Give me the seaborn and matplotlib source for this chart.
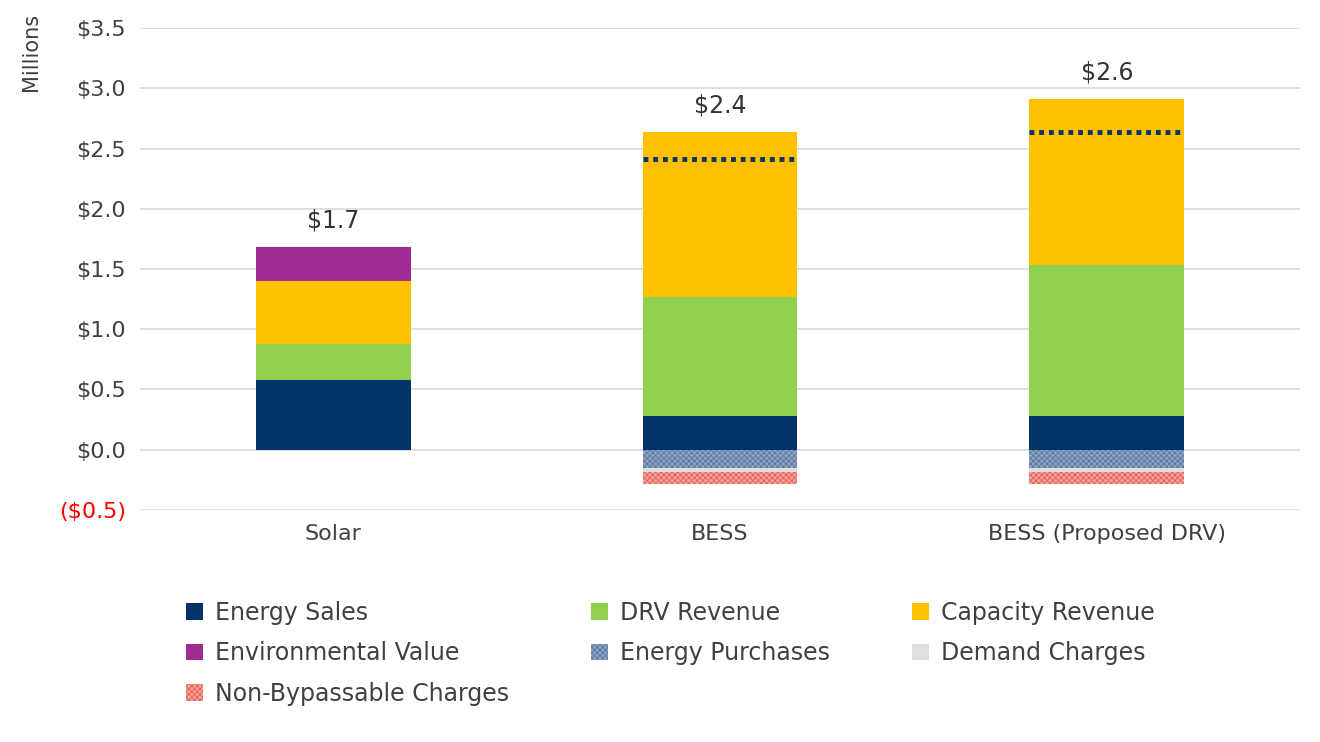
import matplotlib
matplotlib.use("Agg")
import matplotlib.pyplot as plt
import seaborn as sns
import numpy as np

categories = ["Solar", "BESS", "BESS (Proposed DRV)"]
energy_sales = [0.575, 0.28, 0.28]
drv_revenue = [0.305, 0.99, 1.25]
capacity_revenue = [0.52, 1.37, 1.38]
environmental_value = [0.28, 0.0, 0.0]
energy_purchases = [0.0, -0.15, -0.15]
demand_charges = [0.0, -0.04, -0.04]
non_bypassable = [0.0, -0.10, -0.10]
net_values = [None, 2.41, 2.64]
total_labels = ["$1.7", "$2.4", "$2.6"]
label_heights = [1.70, 2.66, 2.93]

sns.set_theme(style="white")
plt.rcParams['font.family'] = ['DejaVu Sans']
plt.rcParams['hatch.linewidth'] = 0.6
fig, ax = plt.subplots(figsize=(13.2, 7.42), dpi=100)
fig.subplots_adjust(left=0.106, right=0.985, top=0.962, bottom=0.313)

x = np.arange(len(categories))
w = 0.4
pos_series = [("Energy Sales", energy_sales, "#003366", None, None),
              ("DRV Revenue", drv_revenue, "#92D050", None, None),
              ("Capacity Revenue", capacity_revenue, "#FFC000", None, None),
              ("Environmental Value", environmental_value, "#A02B93", None, None)]
neg_series = [("Energy Purchases", energy_purchases, "#8EA3C4", "#5A75A0", "xxxxxx"),
              ("Demand Charges", demand_charges, "#E0E0E0", None, None),
              ("Non-Bypassable Charges", non_bypassable, "#F4A49A", "#E85A50", "xxxxxx")]

handles = {}
bottom = np.zeros(3)
for name, vals, col, ec, h in pos_series:
    v = np.array(vals)
    b = ax.bar(x, v, w, bottom=bottom, color=col, label=name, linewidth=0)
    handles[name] = b
    bottom += v
nb = np.zeros(3)
for name, vals, col, ec, h in neg_series:
    v = np.array(vals)
    kw = {}
    if h:
        kw = dict(hatch=h, edgecolor=ec)
    b = ax.bar(x, v, w, bottom=nb, color=col, label=name, linewidth=0, **kw)
    handles[name] = b
    nb += v

for i, nv in enumerate(net_values):
    if nv is not None:
        ax.hlines(nv, x[i] - w / 2, x[i] + w / 2, colors="#003366", linestyles=(0, (1, 1)), linewidth=3.5)
for i, t in enumerate(total_labels):
    ax.text(x[i], label_heights[i] + 0.1, t, ha="center", va="bottom", fontsize=17, color="#333333")

ax.set_ylim(-0.5, 3.5)
ax.set_xlim(-0.5, 2.5)
ticks = np.arange(-0.5, 3.51, 0.5)
ax.set_yticks(ticks)
labs = [("($%.1f)" % abs(t)) if t < 0 else ("$%.1f" % t) for t in ticks]
ax.set_yticklabels(labs, fontsize=16, color="#404040")
ax.get_yticklabels()[0].set_color("red")
ax.set_xticks(x)
ax.set_xticklabels(categories, fontsize=16, color="#404040")
ax.tick_params(axis="both", length=0, pad=10)
ax.yaxis.grid(True, color="#D9D9D9", linewidth=1.2)
ax.set_axisbelow(True)
for s in ax.spines.values():
    s.set_visible(False)
ax.set_ylabel("Millions", fontsize=15, color="#404040")
ax.yaxis.set_label_coords(-0.085, 0.95)

order = ["Energy Sales", "Environmental Value", "Non-Bypassable Charges",
         "DRV Revenue", "Energy Purchases", "Capacity Revenue", "Demand Charges"]
leg = fig.legend([handles[o] for o in order], order, loc="lower left", bbox_to_anchor=(0.125, 0.02),
                 ncol=3, frameon=False, fontsize=17, handlelength=0.7, handleheight=0.7,
                 columnspacing=3.5, labelspacing=0.7, handletextpad=0.5)
for t in leg.get_texts():
    t.set_color("#404040")
fig.savefig("out.png", dpi=100)
